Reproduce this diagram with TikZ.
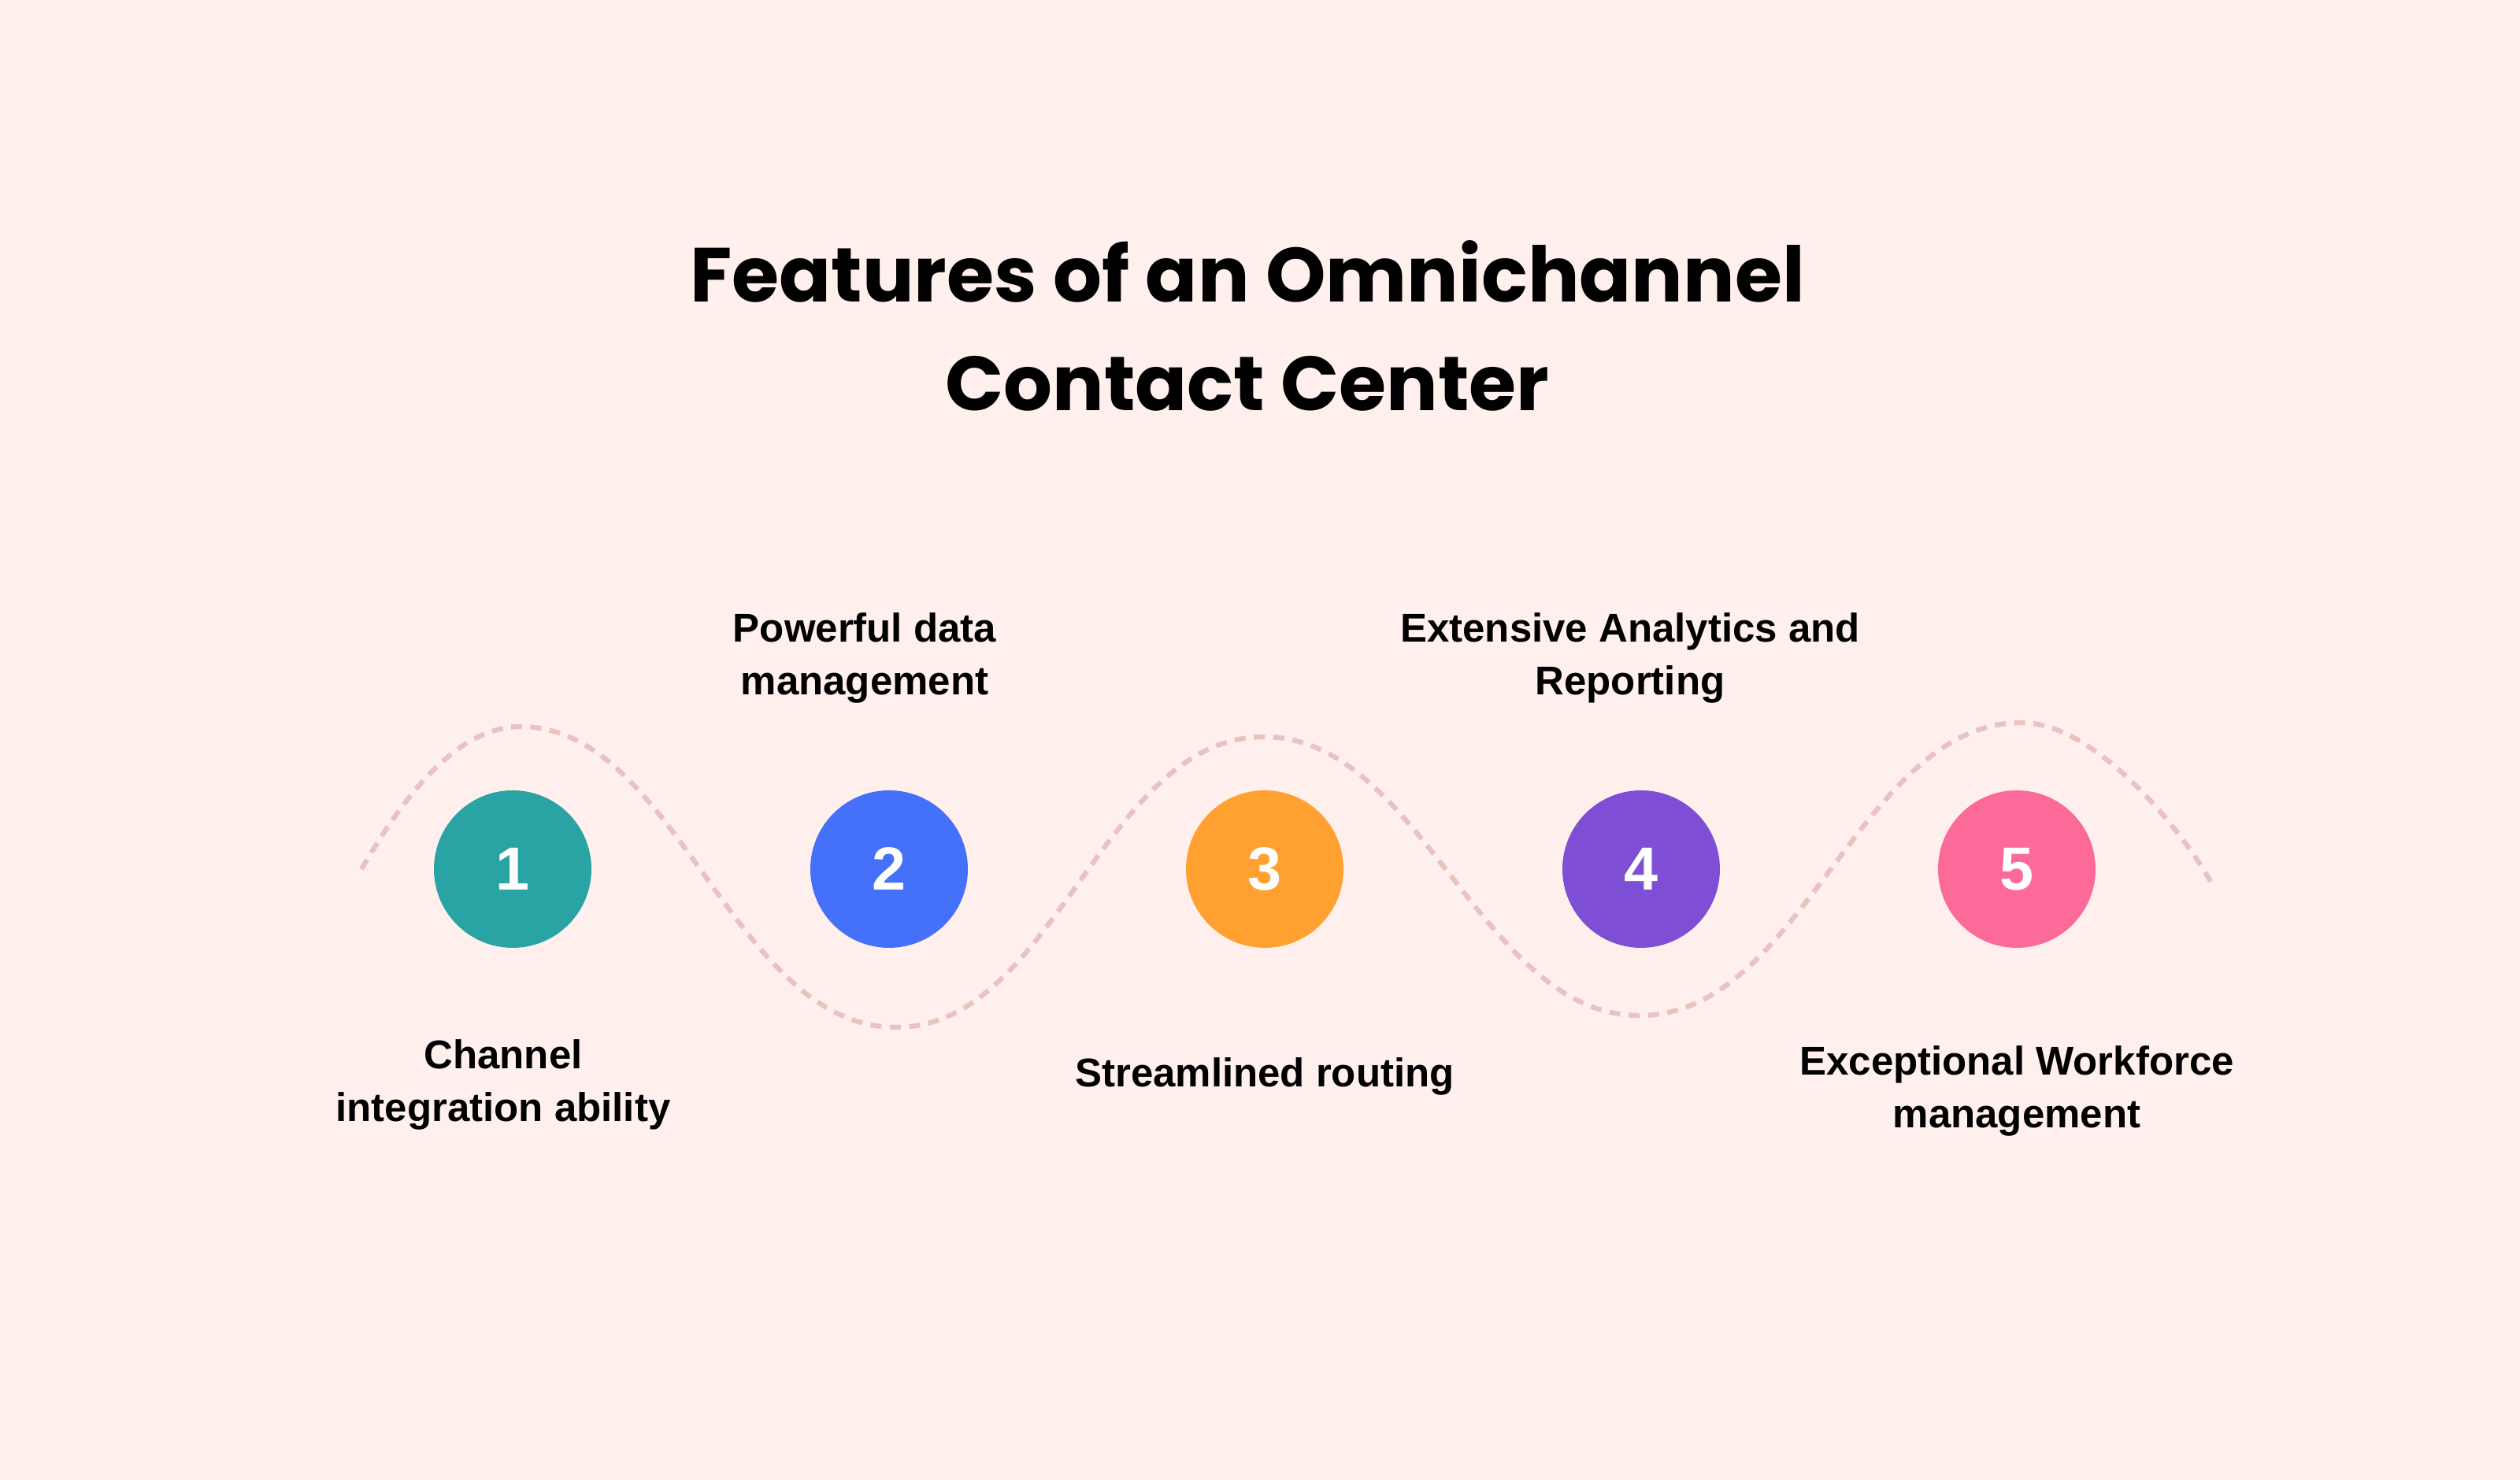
\documentclass[tikz,border=0pt]{standalone}
\usepackage{fontspec}
\setmainfont{Liberation Sans}
\newfontfamily\titlefont{Poppins}
\definecolor{bgpink}{HTML}{FFF0EE}
\definecolor{wavecol}{HTML}{E8C4BC}
\definecolor{stepteal}{HTML}{2AA3A5}
\definecolor{stepblue}{HTML}{4570FA}
\definecolor{steporange}{HTML}{FFA030}
\definecolor{steppurple}{HTML}{7E4FD4}
\definecolor{steppink}{HTML}{FB6A98}

\begin{document}
\begin{tikzpicture}[
  stepcircle/.style={circle, minimum size=2cm, inner sep=0pt, text=white, font=\bfseries\fontsize{22}{22}\selectfont},
  textstyle/.style={black, align=center, font=\bfseries\fontsize{14.5}{19.2}\selectfont}]

  \fill [bgpink] (0,0) rectangle (32,18.8);
  \useasboundingbox (0,0) rectangle (32,18.8);

  \node (title) at (15.84,14.66) [align=center, font=\titlefont\bfseries\fontsize{27.7}{39.5}\selectfont] {Features of an Omnichannel\\Contact Center};

  % dashed wave behind the steps
  \draw [wavecol, line width=1.8pt, dash pattern=on 4pt off 3pt]
    (4.59,7.76) .. controls (4.99,8.44) and (5.7,9.57) .. (6.61,9.57)
    .. controls (8.6,9.57) and (9.3,5.75) .. (11.38,5.75)
    .. controls (13.4,5.75) and (14.0,9.44) .. (16.05,9.44)
    .. controls (18.05,9.44) and (18.8,5.90) .. (20.82,5.90)
    .. controls (22.9,5.90) and (23.6,9.62) .. (25.67,9.62)
    .. controls (26.6,9.62) and (27.68,8.29) .. (28.08,7.59);

  \foreach \i/\x/\col in {1/6.51/stepteal, 2/11.29/stepblue, 3/16.06/steporange, 4/20.84/steppurple, 5/25.61/steppink} {
    \node (c\i) [stepcircle, fill=\col] at (\x,7.76) {\i};
  }

  \node (l1) [textstyle] at (6.39,5.02) {Channel\\integration ability};
  \node (l2) [textstyle] at (10.98,10.44) {Powerful data\\management};
  \node (l3) [textstyle] at (16.06,5.13) {Streamlined routing};
  \node (l4) [textstyle] at (20.70,10.44) {Extensive Analytics and\\Reporting};
  \node (l5) [textstyle] at (25.61,4.94) {Exceptional Workforce\\management};

\end{tikzpicture}
\end{document}
